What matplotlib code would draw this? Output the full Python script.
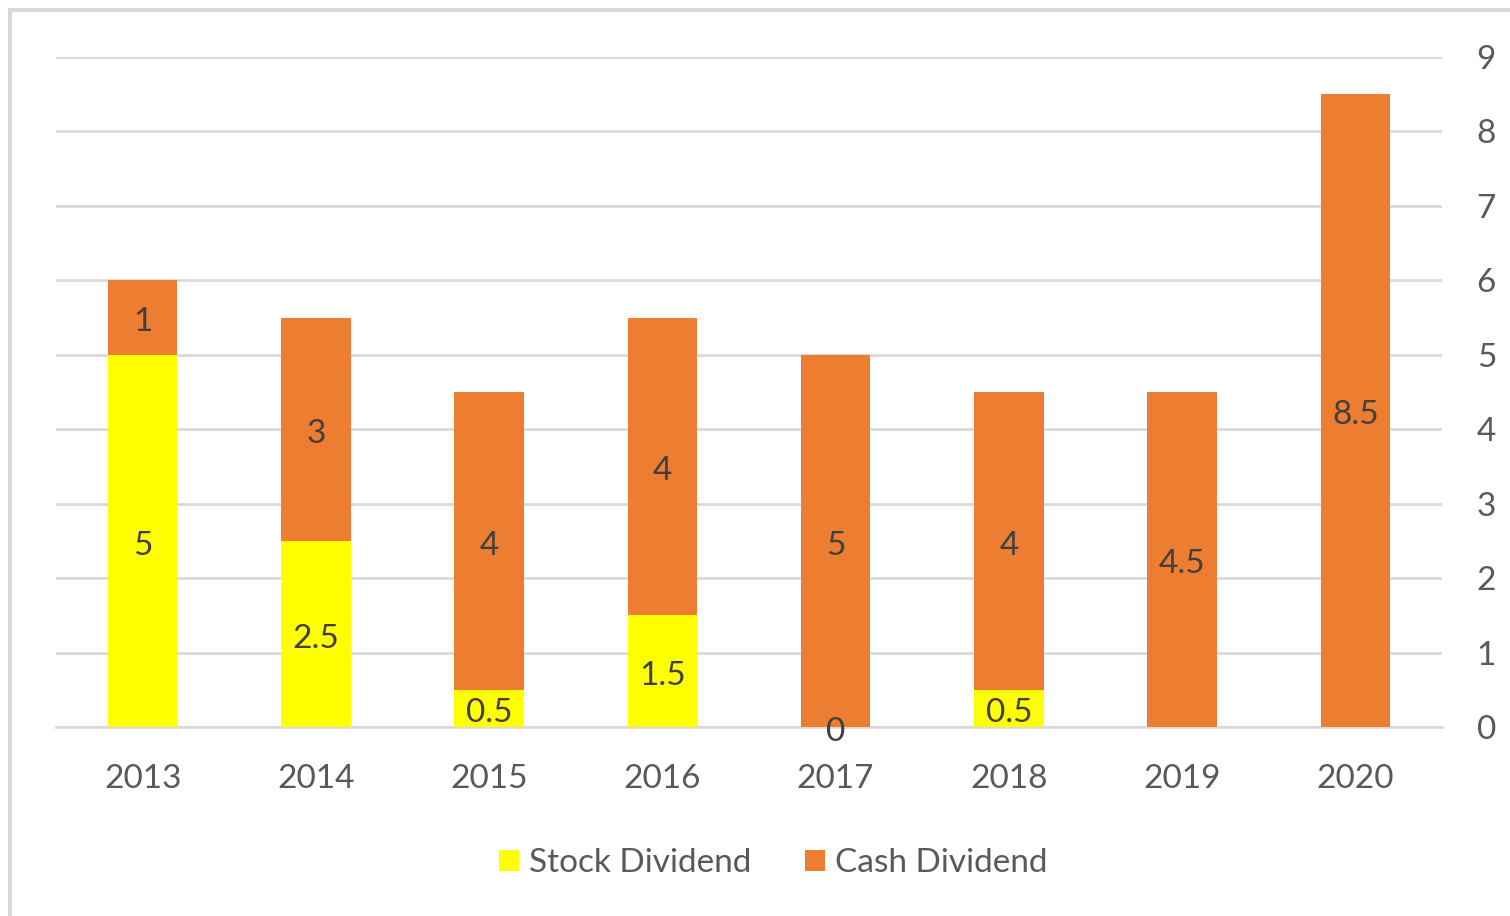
import matplotlib
matplotlib.use("Agg")
import matplotlib.pyplot as plt
from matplotlib.patches import Rectangle, Patch
import numpy as np

years = ["2013", "2014", "2015", "2016", "2017", "2018", "2019", "2020"]
stock = [5, 2.5, 0.5, 1.5, 0, 0.5, None, None]
cash = [1, 3, 4, 4, 5, 4, 4.5, 8.5]
yticks = [0, 1, 2, 3, 4, 5, 6, 7, 8, 9]

plt.rcParams['font.family'] = ['Lato', 'DejaVu Sans']

YEL = '#FFFF00'
ORA = '#ED7D31'
TXT = '#595959'
LBL = '#404040'
GRID = '#D9D9D9'

fig = plt.figure(figsize=(15.10, 9.16), dpi=100)
ax = fig.add_axes([56/1510, 1 - 727/916, (1442-56)/1510, (727-57)/916])

x = np.arange(len(years))
stock_h = [s if s is not None else 0 for s in stock]
b1 = ax.bar(x, stock_h, width=0.40, color=YEL, zorder=3)
b2 = ax.bar(x, cash, width=0.40, bottom=stock_h, color=ORA, zorder=3)

t1 = ax.bar_label(b1, labels=["" if s is None else f"{s:g}" for s in stock],
                  label_type='center', fontsize=24, color=LBL)
t2 = ax.bar_label(b2, labels=[f"{c:g}" for c in cash],
                  label_type='center', fontsize=24, color=LBL)
for t in list(t1) + list(t2):
    t.xyann = (0, -3.5)

ax.set_xlim(-0.5, len(years) - 0.5)
ax.set_ylim(0, 9)
ax.set_yticks(yticks)
ax.set_yticklabels([str(t) for t in yticks])
ax.yaxis.tick_right()
ax.set_xticks(x)
ax.set_xticklabels(years)
ax.tick_params(axis='y', length=0, pad=25, labelsize=24, labelcolor=TXT)
ax.tick_params(axis='x', length=0, pad=27, labelsize=24, labelcolor=TXT)
ax.grid(axis='y', color=GRID, linewidth=2, zorder=0)
for s in ['top', 'left', 'right']:
    ax.spines[s].set_visible(False)
ax.spines['bottom'].set_color(GRID)
ax.spines['bottom'].set_linewidth(2)
ax.spines['bottom'].set_zorder(2)

handles = [Patch(facecolor=YEL, label='Stock Dividend'),
           Patch(facecolor=ORA, label='Cash Dividend')]
fig.legend(handles=handles, loc='center', ncol=2,
           bbox_to_anchor=(773/1510, 1 - 863/916), frameon=False,
           fontsize=24, labelcolor=TXT, handlelength=0.6, handleheight=0.6,
           handletextpad=0.3, columnspacing=1.6)

fig.add_artist(Rectangle((10/1510, -0.05), 1.1, 1 - 10/916 + 0.05,
                         transform=fig.transFigure, fill=False,
                         edgecolor=GRID, linewidth=3))

fig.savefig("out.png", dpi=100)
